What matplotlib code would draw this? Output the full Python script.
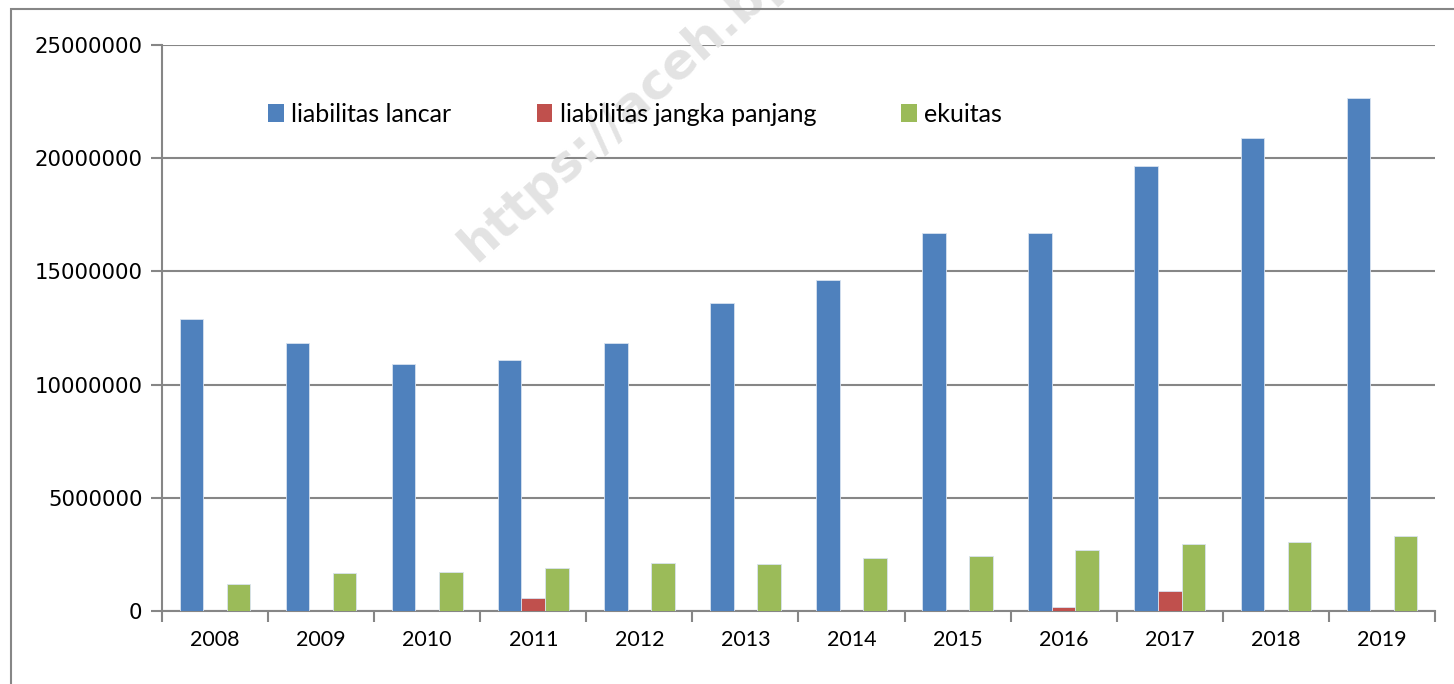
import numpy as np
import matplotlib.pyplot as plt
from matplotlib.patches import Rectangle

# data
years = ['2008', '2009', '2010', '2011', '2012', '2013',
         '2014', '2015', '2016', '2017', '2018', '2019']
lancar = [12900000, 11820000, 10910000, 11090000, 11840000, 13600000,
          14620000, 16700000, 16700000, 19660000, 20890000, 22660000]
jangka_panjang = [0, 0, 0, 570000, 0, 20000,
                  0, 20000, 180000, 870000, 0, 20000]
ekuitas = [1190000, 1680000, 1710000, 1900000, 2120000, 2080000,
           2350000, 2430000, 2680000, 2970000, 3050000, 3310000]
labels = ['liabilitas lancar', 'liabilitas jangka panjang', 'ekuitas']
colors = ['#4F81BD', '#C0504D', '#9BBB59']

fig = plt.figure(figsize=(14.54, 6.84), dpi=100)
ax = fig.add_axes([0.1114, 0.1067, 0.8755, 0.8275])

x = np.arange(len(years))
w = 0.222
series = [lancar, jangka_panjang, ekuitas]
for i, (vals, lab, col) in enumerate(zip(series, labels, colors)):
    ax.bar(x + (i - 1) * w, vals, w, color=col, label=lab,
           edgecolor='#D8E2F0', linewidth=0.6, zorder=3)

ax.set_xlim(-0.5, len(years) - 0.5)
ax.set_ylim(0, 25000000)
ax.set_yticks(np.arange(0, 25000001, 5000000))
ax.set_yticklabels([str(v) for v in range(0, 25000001, 5000000)],
                   fontfamily='DejaVu Sans', fontsize=15.3)
ax.yaxis.grid(True, color='#868686', linewidth=1.5, zorder=0)
ax.set_axisbelow(True)

# ticks at category boundaries, labels at centres
ax.set_xticks(np.arange(-0.5, len(years), 1))
ax.set_xticklabels([])
ax.set_xticks(x, minor=True)
ax.set_xticklabels(years, minor=True, fontfamily='Lato', fontsize=15.5)
ax.tick_params(axis='x', which='minor', length=0, pad=14)
ax.tick_params(axis='x', which='major', length=8, width=1.5, color='#868686')
ax.tick_params(axis='y', length=8, width=1.5, color='#868686', pad=6)

for s in ['top', 'right']:
    ax.spines[s].set_visible(False)
for s in ['left', 'bottom']:
    ax.spines[s].set_color('#868686')
    ax.spines[s].set_linewidth(1.5)

# faint watermark, under the legend
ax.text(0.31, 0.605, 'https://aceh.bps.go.id', rotation=42,
        fontsize=36, fontweight='bold', color='#E3E3E3',
        fontfamily='DejaVu Sans', ha='left', va='bottom',
        transform=fig.transFigure, clip_on=False, zorder=1)

leg = ax.legend(loc='center left', bbox_to_anchor=(0.066, 0.878), ncol=3,
                frameon=False, prop={'family': 'Lato', 'size': 18},
                handlelength=0.62, handleheight=0.75, handletextpad=0.3,
                columnspacing=3.4)
leg.set_zorder(5)
for h in leg.legend_handles:
    h.set_edgecolor('none')

# outer chart frame
fig.patches.append(Rectangle((11 / 1454, -0.1), 1.2, 1.1 - 9 / 684,
                             transform=fig.transFigure, fill=False,
                             edgecolor='#868686', linewidth=1.5))

fig.savefig('out.png', dpi=100)
